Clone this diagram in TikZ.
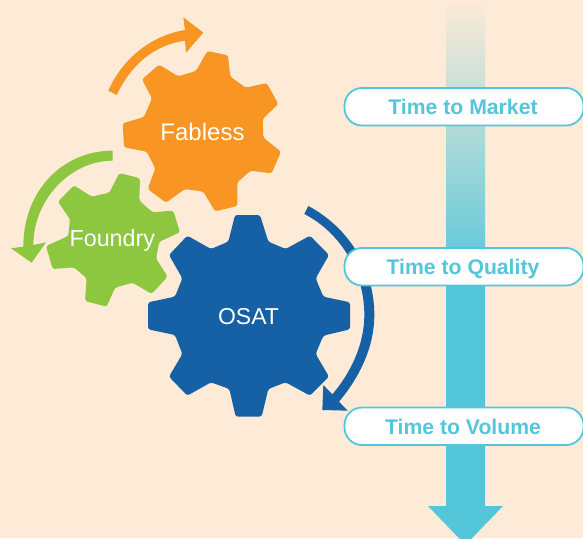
\documentclass[tikz,border=0pt]{standalone}
\usepackage{fontspec}
\setmainfont{Liberation Sans}
\definecolor{bgc}{HTML}{FDEBD7}
\definecolor{orangec}{HTML}{F99523}
\definecolor{greenc}{HTML}{8DC63F}
\definecolor{bluec}{HTML}{1660A5}
\definecolor{tealc}{HTML}{54C6DA}
\tikzset{
  gearshape/.style={rounded corners=2.5pt},
  gearlabel/.style={text=white,inner sep=0pt,anchor=base,font=\fontsize{#1}{#1}\selectfont},
  pill/.style={draw=tealc,line width=1.8pt,fill=white,rounded corners=17.5pt},
  pilllabel/.style={text=tealc,inner sep=0pt,anchor=base,font=\fontsize{21.2}{22}\selectfont\bfseries},
  zoomed/.style={x=0.33333pt,y=-0.33333pt}
}
\begin{document}
\begin{tikzpicture}[x=1pt,y=-1pt]
\useasboundingbox (0,0) rectangle (583,538);
\clip (0,0) rectangle (583,538);
\fill[bgc] (0,0) rectangle (583,538);
% vertical arrow
\shade[top color=bgc,bottom color=tealc] (446,0) rectangle (485,285);
\fill[tealc] (446,284.5) -- (485,284.5) -- (485,506) -- (503,506) -- (465.5,545) -- (428,506) -- (446,506) -- cycle;
% blue arrow
\begin{scope}[zoomed,shift={(140pt,-200pt)}]
\fill[bluec] (505,18) .. controls (630,85) and (703,210) .. (703,345)
  .. controls (703,440) and (660,530) .. (597,605) -- (623,632) -- (547,630) -- (550,555) -- (577,583)
  .. controls (635,515) and (673,430) .. (673,345)
  .. controls (673,220) and (605,100) .. (493,42) -- cycle;
\end{scope}
% pills
\draw[pill] (344.5,88) rectangle (583.5,125.5);
\draw[pill] (344.5,248) rectangle (583.5,285.5);
\draw[pill] (344.5,407.5) rectangle (583.5,445);
\node[pilllabel] (market) at (463,114.3) {Time to Market};
\node[pilllabel] (quality) at (463,274.3) {Time to Quality};
\node[pilllabel] (volume) at (463,434.3) {Time to Volume};
% Fabless gear and arrows
\begin{scope}[zoomed]
\fill[orangec] (325,272) .. controls (370,170) and (460,105) .. (555,90) -- (550,52) -- (610,98) -- (558,158) -- (555,122)
  .. controls (465,135) and (395,190) .. (350,285) -- cycle;
\fill[greenc] (338,452) .. controls (190,452) and (70,570) .. (70,740) -- (33,745) -- (95,788) -- (138,727) -- (100,735)
  .. controls (100,600) and (210,482) .. (338,482) -- cycle;
\fill[orangec,gearshape] (622,153) -- (684,166) -- (691,230) -- (737,263) -- (800,249) -- (835,312) -- (788,357) -- (790,413) -- (843,455) -- (815,520) -- (752,512) -- (712,547) -- (712,618) -- (645,634) -- (610,575) -- (555,567) -- (498,608) -- (443,567) -- (466,505) -- (440,455) -- (372,442) -- (368,370) -- (432,351) -- (456,295) -- (426,238) -- (477,194) -- (535,229) -- (588,213) -- cycle;
\end{scope}
% Foundry gear
\begin{scope}[zoomed,shift={(0pt,-160pt)}]
\fill[greenc,gearshape] (358,39) -- (420,55) -- (418,122) -- (458,157) -- (520,152) -- (540,217) -- (478,245) -- (468,295) -- (503,350) -- (455,402) -- (398,368) -- (345,383) -- (320,440) -- (255,423) -- (260,355) -- (222,322) -- (158,327) -- (138,258) -- (205,228) -- (210,178) -- (174,125) -- (222,76) -- (275,110) -- (328,98) -- cycle;
\end{scope}
% OSAT gear
\begin{scope}[zoomed,shift={(140pt,-200pt)}]
\fill[bluec,gearshape] (285,45) -- (360,45) -- (385,125) -- (437,147) -- (510,107) -- (567,165) -- (527,235) -- (550,290) -- (630,307) -- (630,388) -- (550,407) -- (527,462) -- (567,530) -- (510,587) -- (437,547) -- (385,567) -- (365,650) -- (287,650) -- (268,567) -- (213,547) -- (142,587) -- (87,530) -- (127,462) -- (105,405) -- (24,388) -- (24,307) -- (105,290) -- (127,235) -- (87,165) -- (142,107) -- (213,147) -- (265,125) -- cycle;
\end{scope}
\node[gearlabel=24] (fabless) at (202.5,140) {Fabless};
\node[gearlabel=23.3] (foundry) at (112.3,246.3) {Foundry};
\node[gearlabel=23] (osat) at (248.5,324.3) {OSAT};
\end{tikzpicture}
\end{document}
